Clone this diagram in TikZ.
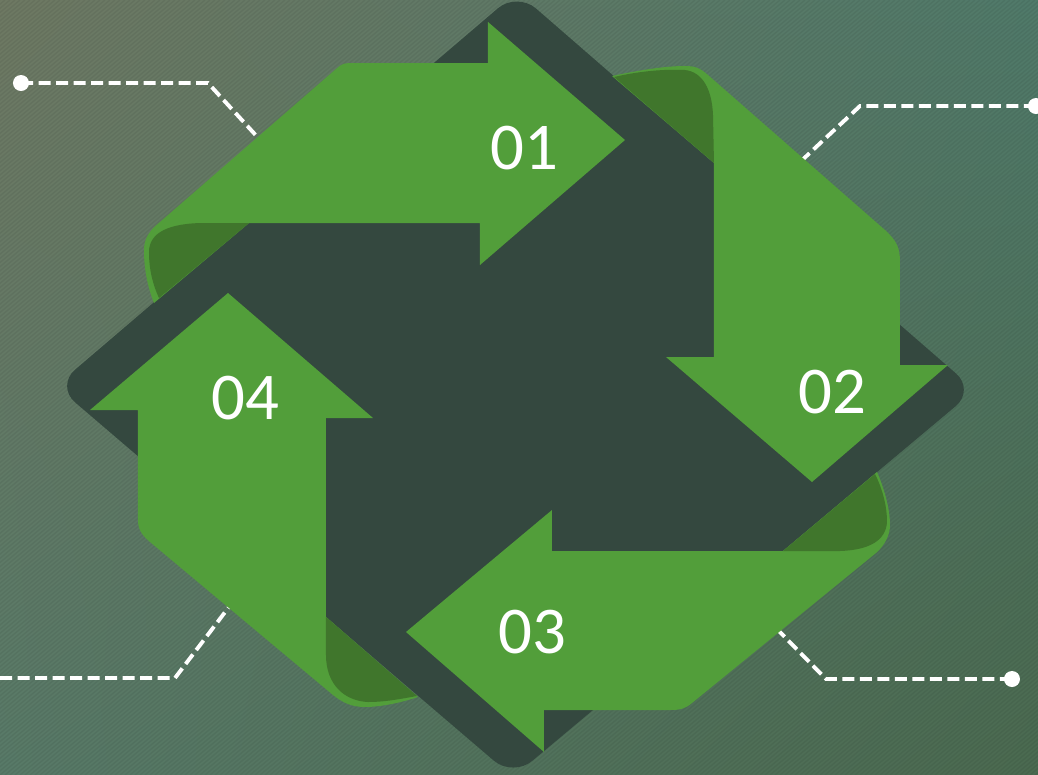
\documentclass[tikz,border=0pt]{standalone}
\usepackage{fontspec}
\setmainfont{Carlito}
\usetikzlibrary{positioning,calc,shadings}
\definecolor{bgTL}{RGB}{110,121,99}
\definecolor{bgTR}{RGB}{80,122,106}
\definecolor{bgBL}{RGB}{88,122,104}
\definecolor{bgBR}{RGB}{75,106,80}
\definecolor{slate}{RGB}{52,72,63}
\definecolor{leafgreen}{RGB}{82,158,58}
\definecolor{foldgreen}{RGB}{64,118,44}
\tikzset{
  bgstripe/.style={line width=0.4pt,color=black,opacity=0.06},
  plate/.style={fill=slate,rounded corners=0.25cm},
  ribbon/.style={fill=leafgreen},
  foldpart/.style={fill=foldgreen},
  numlabel/.style={text=white,inner sep=0,font=\fontsize{19}{22}\selectfont},
  dotnode/.style={circle,fill=white,minimum size=0.16cm,inner sep=0},
  dashline/.style={white,line width=1.1pt,dash pattern=on 0.12cm off 0.055cm}
}

\begin{document}
\begin{tikzpicture}[x=0.01cm,y=-0.01cm]
  \useasboundingbox (0,0) rectangle (1038,775);
  \shade[upper left=bgTL,upper right=bgTR,lower left=bgBL,lower right=bgBR]
    (0,0) rectangle (1038,775);
  \begin{scope}
    \clip (0,0) rectangle (1038,775);
    \foreach \i in {-930,-925,...,1040}
      \draw[bgstripe] (\i,775) -- ++(930,-775);
  \end{scope}

  % callout lines
  \node[dotnode] (dotA) at (21,83) {};
  \coordinate (bendA) at (208,83);
  \coordinate (tipA) at (262,142);
  \node[dotnode] (dotB) at (1036,106) {};
  \coordinate (bendB) at (860,106);
  \coordinate (tipB) at (799,163);
  \node[dotnode] (dotC) at (1012,679) {};
  \coordinate (bendC) at (826,679);
  \coordinate (tipC) at (775,627);
  \coordinate (startD) at (0,678);
  \coordinate (bendD) at (175,678);
  \coordinate (tipD) at (232,603);
  \draw[dashline] (dotA.center) -- (bendA) -- (tipA);
  \draw[dashline] (dotB.center) -- (bendB) -- (tipB);
  \draw[dashline] (dotC.center) -- (bendC) -- (tipC);
  \draw[dashline] (startD) -- (bendD) -- (tipD);

  % back plate
  \fill[plate] (517,-8) -- (975,390) -- (513,777) -- (56,386) -- cycle;

  % arrow 01
  \fill[ribbon] (154,303) .. controls (147,285) and (144,268) .. (144,250)
    .. controls (144,238) and (150,230) .. (160,222) -- (336,69)
    .. controls (343,63) .. (358,63) -- (488,63) -- (488,22) -- (625,140)
    -- (480,265) -- (480,223) -- (249,223) -- cycle;
  \fill[foldpart] (249,223) -- (205,223) .. controls (170,223) and (149,232) .. (149,252)
    .. controls (149,270) and (153,285) .. (159,298) -- cycle;

  % arrow 02
  \fill[ribbon] (612,76) .. controls (640,70) and (665,66) .. (685,66)
    .. controls (695,66) and (700,68) .. (708,75) -- (885,230)
    .. controls (897,241) and (900,248) .. (900,262) -- (900,365) -- (948,365)
    -- (812,482) -- (666,357) -- (714,357) -- (714,163) -- cycle;
  \fill[foldpart] (614,77) .. controls (640,71) and (665,69) .. (685,70)
    .. controls (703,72) and (712,90) .. (713,115) -- (714,163) -- cycle;

  % arrow 03
  \fill[ribbon] (877,472) .. controls (885,490) and (890,510) .. (890,525)
    .. controls (890,535) and (885,545) .. (876,553) -- (692,703)
    .. controls (685,709) and (680,710) .. (670,710) -- (544,710) -- (544,752)
    -- (406,632) -- (552,510) -- (552,551) -- (783,551) -- cycle;
  \fill[foldpart] (783,551) -- (840,551) .. controls (870,550) and (886,540) .. (887,522)
    .. controls (887,505) and (882,488) .. (875,474) -- cycle;

  % arrow 04
  \fill[ribbon] (418,697) .. controls (400,703) and (380,707) .. (365,707)
    .. controls (352,707) and (343,703) .. (333,695) -- (150,542)
    .. controls (142,535) and (138,530) .. (138,520) -- (138,410) -- (90,410)
    -- (228,293) -- (373,418) -- (326,418) -- (326,617) -- cycle;
  \fill[foldpart] (326,617) -- (326,655) .. controls (326,685) and (345,701) .. (368,702)
    .. controls (385,702) and (400,699) .. (417,696) -- cycle;

  % step numbers
  \node[numlabel] (lbl01) at (524,148) {01};
  \node[numlabel] (lbl02) at (832,392) {02};
  \node[numlabel] (lbl03) at (532,632) {03};
  \node[numlabel] (lbl04) at (245,398) {04};
\end{tikzpicture}
\end{document}
